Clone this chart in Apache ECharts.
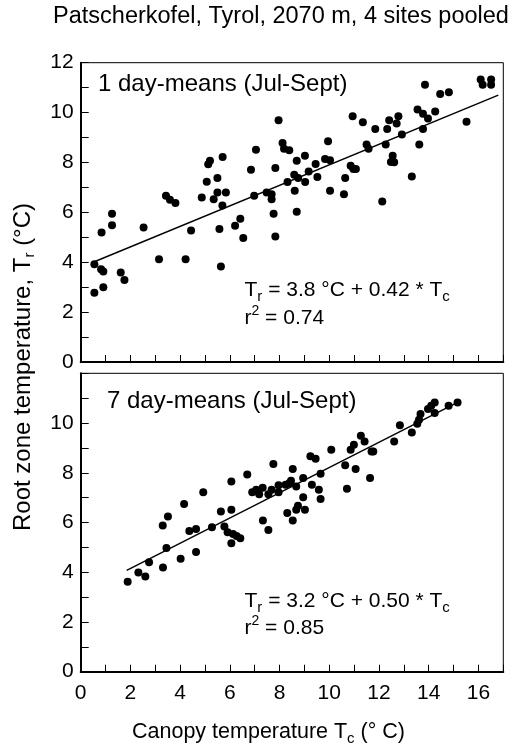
<!DOCTYPE html>
<html>
<head>
<meta charset="utf-8">
<script src="https://cdn.jsdelivr.net/npm/echarts@6/dist/echarts.min.js"></script>
<style>
  html, body { margin: 0; padding: 0; background: #fff; }
  #chart { width: 529px; height: 754px; }
</style>
</head>
<body>
<div id="chart"></div>
<script>
// 1 day-means (Jul-Sept): canopy temperature Tc / root zone temperature Tr
var oneDayTc = [0.55, 0.55, 0.84, 0.82, 0.91, 0.91, 1.26, 1.26, 1.61, 1.76, 2.53, 3.15, 3.43, 3.59, 3.81, 4.22, 4.44, 4.87, 5.07, 5.13,
  5.20, 5.35, 5.50, 5.50, 5.58, 5.64, 5.71, 5.70, 5.84, 6.21, 6.42, 6.54, 6.85, 6.98, 7.05, 7.48, 7.68, 7.68, 7.76, 7.83,
  7.83, 7.96, 8.12, 8.18, 8.39, 8.32, 8.59, 8.61, 8.69, 8.69, 8.75, 9.02, 9.03, 9.17, 9.45, 9.52, 9.83, 9.95, 10.03, 10.03,
  10.59, 10.64, 10.86, 10.94, 10.97, 11.07, 11.35, 11.50, 11.58, 11.85, 12.13, 12.27, 12.33, 12.41, 12.55, 12.48, 12.61, 12.71, 12.78, 12.92,
  13.32, 13.55, 13.62, 13.77, 13.77, 13.85, 13.97, 14.26, 14.46, 14.81, 15.52, 16.09, 16.17, 16.51, 16.51];
var oneDayTr = [3.92, 2.78, 5.19, 3.72, 3.63, 3.00, 5.94, 5.48, 3.59, 3.29, 5.39, 4.12, 6.67, 6.51, 6.37, 4.12, 5.27, 6.60, 7.23, 7.93,
  8.07, 6.53, 7.38, 6.80, 5.33, 3.83, 8.22, 6.27, 6.80, 5.46, 5.74, 4.97, 7.71, 6.67, 8.51, 6.80, 6.73, 6.53, 5.94, 5.03,
  7.78, 9.69, 8.78, 8.55, 8.49, 7.22, 7.51, 6.87, 8.07, 6.02, 7.38, 8.27, 7.22, 7.64, 7.94, 7.42, 8.14, 8.85, 8.09, 6.87,
  6.73, 7.38, 7.87, 9.85, 7.74, 7.74, 9.61, 8.72, 8.55, 9.34, 6.44, 8.72, 9.34, 9.69, 8.27, 8.02, 8.01, 9.56, 9.85, 9.12,
  7.44, 10.12, 8.72, 9.95, 9.34, 11.12, 9.76, 10.04, 10.75, 10.82, 9.63, 11.33, 11.12, 11.33, 11.12];
var oneDayFitTc = [0.5, 16.8];
var oneDayFitTr = [4.0, 10.7];

// 7 day-means (Jul-Sept)
var sevenDayTc = [1.89, 2.32, 2.60, 2.75, 3.31, 3.30, 3.45, 3.51, 4.02, 4.16, 4.37, 4.64, 4.64, 4.93, 5.28, 5.64, 5.78, 5.91, 6.06, 6.06,
  6.06, 6.13, 6.27, 6.42, 6.70, 6.90, 7.06, 7.18, 7.32, 7.33, 7.55, 7.55, 7.68, 7.75, 7.96, 7.96, 8.24, 8.31, 8.39, 8.46,
  8.53, 8.53, 8.67, 8.74, 8.67, 8.95, 8.95, 9.02, 9.24, 9.30, 9.45, 9.58, 9.65, 9.65, 10.08, 10.64, 10.71, 10.86, 10.99, 11.06,
  11.27, 11.42, 11.64, 11.70, 11.77, 12.61, 12.84, 13.32, 13.54, 13.61, 13.67, 13.97, 14.10, 14.24, 14.24, 14.80, 15.16];
var sevenDayTr = [3.62, 3.99, 3.83, 4.40, 4.19, 5.88, 4.97, 6.24, 4.54, 6.74, 5.66, 5.74, 4.81, 7.22, 5.81, 6.44, 5.84, 5.61, 7.65, 6.51,
  5.17, 5.54, 5.46, 5.37, 7.93, 7.22, 7.32, 7.14, 7.40, 6.08, 5.70, 7.14, 7.32, 8.35, 7.50, 7.22, 7.52, 6.38, 7.58, 7.68,
  8.15, 6.08, 7.45, 6.67, 6.51, 7.79, 7.02, 6.51, 8.66, 7.52, 8.56, 7.32, 7.96, 6.95, 8.93, 8.30, 7.36, 8.93, 9.13, 8.15,
  9.49, 9.26, 7.79, 8.86, 8.86, 9.26, 9.91, 9.62, 9.97, 10.13, 10.36, 10.56, 10.70, 10.83, 10.40, 10.70, 10.83];
var sevenDayFitTc = [1.85, 15.2];
var sevenDayFitTr = [4.07, 10.85];

// labelled ticks (the others are unlabelled minor ticks)
var xTickLabels = [0, 2, 4, 6, 8, 10, 12, 14, 16];
var yTickLabelsTop = [0, 2, 4, 6, 8, 10, 12];
var yTickLabelsBottom = [0, 2, 4, 6, 8, 10];

function pairs(xs, ys) {
  return xs.map(function (x, i) { return [x, ys[i]]; });
}

function onlyTicks(list) {
  return function (v) { return list.indexOf(v) >= 0 ? String(v) : ''; };
}

var FONT = 'Liberation Sans';
var chart = echarts.init(document.getElementById('chart'));

function xAxisOpt(gridIndex, showLabel) {
  return {
    gridIndex: gridIndex,
    type: 'value',
    min: 0,
    max: 17,
    interval: 1,
    axisLine: { show: true, onZero: false, lineStyle: { color: '#000', width: 2 } },
    axisTick: { show: true, inside: true, length: 7, lineStyle: { color: '#000', width: 1 } },
    splitLine: { show: false },
    axisLabel: {
      show: showLabel,
      margin: 11,
      color: '#000',
      fontFamily: FONT,
      fontSize: 21,
      formatter: onlyTicks(xTickLabels)
    }
  };
}

function yAxisOpt(gridIndex, labels) {
  return {
    gridIndex: gridIndex,
    type: 'value',
    min: 0,
    max: 12,
    interval: 1,
    axisLine: { show: true, onZero: false, lineStyle: { color: '#000', width: 2 } },
    axisTick: { show: true, inside: true, length: 8, lineStyle: { color: '#000', width: 1 } },
    splitLine: { show: false },
    axisLabel: {
      margin: 7,
      color: '#000',
      fontFamily: FONT,
      fontSize: 21,
      formatter: onlyTicks(labels)
    }
  };
}

var sub = { fontSize: 15, lineHeight: 15, verticalAlign: 'bottom', fontFamily: FONT, fill: '#000' };
var sup = { fontSize: 14, lineHeight: 23, verticalAlign: 'top', fontFamily: FONT, fill: '#000' };
function mainStyle(size) {
  return { fontSize: size, lineHeight: 28, fontFamily: FONT, fill: '#000' };
}

function label(x, y, text, size, extra) {
  var el = {
    type: 'text',
    x: x,
    y: y,
    style: {
      text: text,
      fontFamily: FONT,
      fontSize: size,
      fill: '#000',
      align: 'left',
      verticalAlign: 'middle',
      rich: { m: mainStyle(size), s: sub, p: sup }
    }
  };
  if (extra) { for (var k in extra) el[k] = extra[k]; }
  return el;
}

var dots = { color: '#000', opacity: 1 };

var option = {
  animation: false,
  backgroundColor: '#fff',
  grid: [
    { left: 80.7, right: 25.7, top: 62.7, bottom: 392, show: true, borderColor: '#000', borderWidth: 1 },
    { left: 80.7, right: 25.7, top: 373.3, bottom: 82.3, show: true, borderColor: '#000', borderWidth: 1 }
  ],
  xAxis: [xAxisOpt(0, false), xAxisOpt(1, true)],
  yAxis: [yAxisOpt(0, yTickLabelsTop), yAxisOpt(1, yTickLabelsBottom)],
  series: [
    {
      type: 'scatter', xAxisIndex: 0, yAxisIndex: 0,
      data: pairs(oneDayTc, oneDayTr),
      symbol: 'circle', symbolSize: 8,
      itemStyle: dots
    },
    {
      type: 'line', xAxisIndex: 0, yAxisIndex: 0,
      data: pairs(oneDayFitTc, oneDayFitTr),
      showSymbol: false,
      lineStyle: { color: '#000', width: 1.4 }
    },
    {
      type: 'scatter', xAxisIndex: 1, yAxisIndex: 1,
      data: pairs(sevenDayTc, sevenDayTr),
      symbol: 'circle', symbolSize: 8,
      itemStyle: dots
    },
    {
      type: 'line', xAxisIndex: 1, yAxisIndex: 1,
      data: pairs(sevenDayFitTc, sevenDayFitTr),
      showSymbol: false,
      lineStyle: { color: '#000', width: 1.4 }
    }
  ],
  graphic: [
    label(281, 16.5, 'Patscherkofel, Tyrol, 2070 m, 4 sites pooled', 23.5, null),
    label(98, 84, '1 day-means (Jul-Sept)', 24, null),
    label(107, 401, '7 day-means (Jul-Sept)', 24, null),
    label(244.5, 290.5, '{m|T}{s|r}{m| = 3.8 °C + 0.42 * T}{s|c}', 21, null),
    label(244.5, 318, '{m|r}{p|2}{m| = 0.74}', 21, null),
    label(244.5, 601, '{m|T}{s|r}{m| = 3.2 °C + 0.50 * T}{s|c}', 21, null),
    label(244.5, 628, '{m|r}{p|2}{m| = 0.85}', 21, null),
    label(132, 732.5, '{m|Canopy temperature T}{s|c}{m| (° C)}', 21.5, null),
    label(23, 531, '{m|Root zone temperature, T}{s|r}{m| (°C)}', 24, { rotation: Math.PI / 2 })
  ]
};
// title is centred on its x
option.graphic[0].style.align = 'center';

chart.setOption(option);
</script>
</body>
</html>
